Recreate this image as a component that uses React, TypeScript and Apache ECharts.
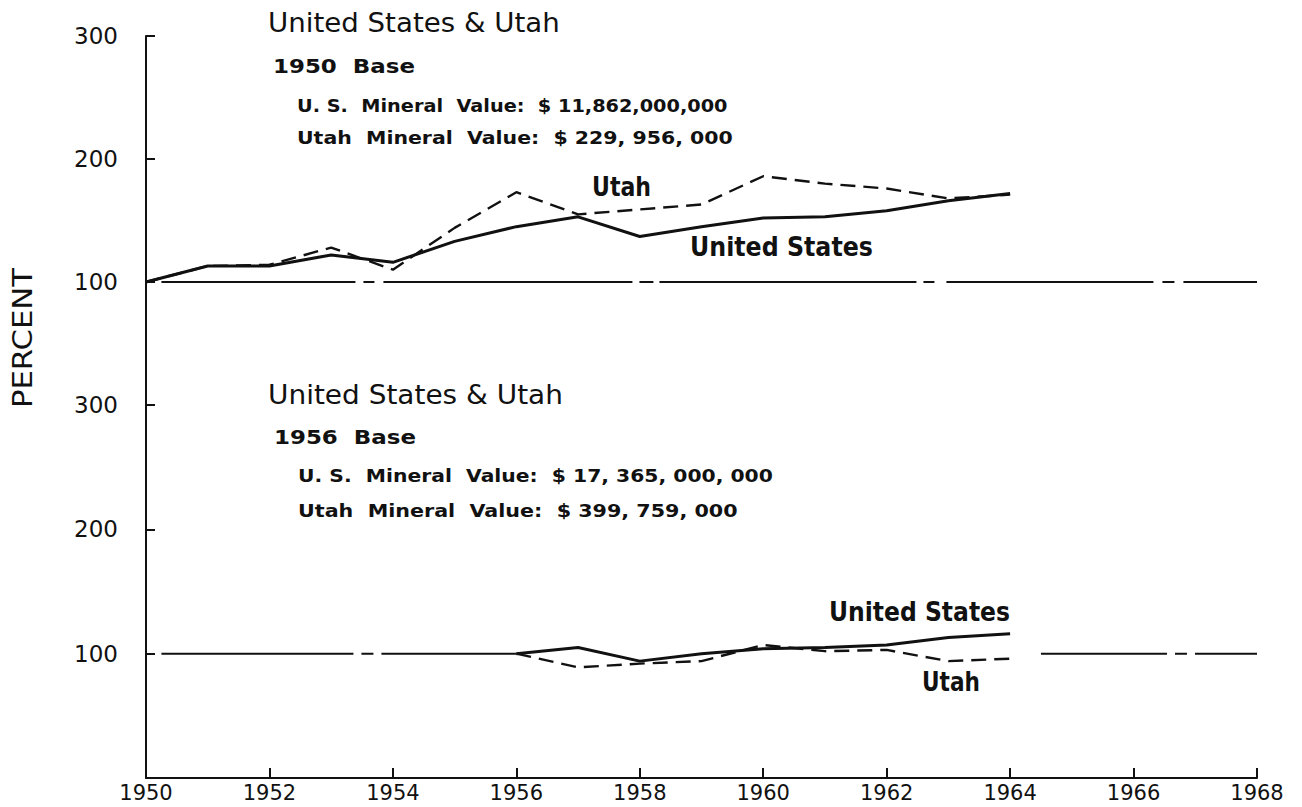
import React, { useEffect, useRef } from "react";
import * as echarts from "echarts";

// ---- data ----
const years1950Base = [1950, 1951, 1952, 1953, 1954, 1955, 1956, 1957, 1958, 1959, 1960, 1961, 1962, 1963, 1964];
const usIndex1950Base = [100, 113, 113, 122, 116, 133, 145, 153, 137, 145, 152, 153, 158, 166, 172];
const utahIndex1950Base = [100, 113, 114, 128, 110, 144, 173, 155, 159, 163, 186, 180, 176, 168, 171];

const years1956Base = [1956, 1957, 1958, 1959, 1960, 1961, 1962, 1963, 1964];
const usIndex1956Base = [100, 105, 94, 100, 104, 105, 107, 113, 116];
const utahIndex1956Base = [100, 89, 92, 94, 107, 102, 103, 94, 96];

const baseValue = 100;
const topBaselineSpan = [1950.25, 1968];
const bottomBaselineLeftSpan = [1950.25, 1956];
const bottomBaselineRightSpan = [1964.5, 1968];

const xMin = 1950;
const xMax = 1968;
const xStep = 2;
const yMin = 0;
const yMax = 300;
const yStep = 100;

const titleText = "United States & Utah";
const base1950Text = "1950  Base";
const base1956Text = "1956  Base";
const us1950Text = "U. S.  Mineral  Value:  $ 11,862,000,000";
const utah1950Text = "Utah  Mineral  Value:  $ 229, 956, 000";
const us1956Text = "U. S.  Mineral  Value:  $ 17, 365, 000, 000";
const utah1956Text = "Utah  Mineral  Value:  $ 399, 759, 000";
const usLabel = "United States";
const utahLabel = "Utah";
const yTitle = "PERCENT";

const FAMILY = '"DejaVu Sans", "Liberation Sans", Arial, sans-serif';
const INK = "#111111";

let measureCtx: CanvasRenderingContext2D | null = null;
function measure(text: string, size: number, weight: string): number {
  if (!measureCtx) measureCtx = document.createElement("canvas").getContext("2d");
  if (!measureCtx) return text.length * size * 0.6;
  measureCtx.font = `${weight} ${size}px ${FAMILY}`;
  return measureCtx.measureText(text).width;
}

type TextSpec = {
  text: string;
  x: number;
  y: number;
  width: number;
  size: number;
  weight: string;
  rotate?: boolean;
};

function fitted(spec: TextSpec) {
  const w = measure(spec.text, spec.size, spec.weight);
  const sx = spec.width / w;
  return {
    type: "text",
    x: spec.x,
    y: spec.y,
    rotation: spec.rotate ? Math.PI / 2 : 0,
    scaleX: sx,
    scaleY: 1,
    silent: true,
    style: {
      text: spec.text,
      fill: INK,
      fontSize: spec.size,
      fontFamily: FAMILY,
      fontWeight: spec.weight,
      align: spec.rotate ? "center" : "left",
      verticalAlign: "middle",
      textAlign: spec.rotate ? "center" : "left",
      textVerticalAlign: "middle",
    },
  };
}

const texts: TextSpec[] = [
  { text: titleText, x: 268, y: 23, width: 292, size: 27, weight: "normal" },
  { text: base1950Text, x: 273, y: 66, width: 142, size: 20, weight: "bold" },
  { text: us1950Text, x: 297, y: 106, width: 431, size: 18, weight: "bold" },
  { text: utah1950Text, x: 297, y: 138, width: 436, size: 18, weight: "bold" },
  { text: titleText, x: 268, y: 395, width: 295, size: 27, weight: "normal" },
  { text: base1956Text, x: 274, y: 437, width: 142, size: 20, weight: "bold" },
  { text: us1956Text, x: 298, y: 476, width: 475, size: 18, weight: "bold" },
  { text: utah1956Text, x: 298, y: 511, width: 440, size: 18, weight: "bold" },
  { text: utahLabel, x: 592, y: 187, width: 59, size: 27, weight: "bold" },
  { text: usLabel, x: 690, y: 246, width: 183, size: 27, weight: "bold" },
  { text: usLabel, x: 829, y: 612, width: 181, size: 26, weight: "bold" },
  { text: utahLabel, x: 922, y: 682, width: 58, size: 26, weight: "bold" },
  { text: yTitle, x: 23, y: 338, width: 140, size: 27, weight: "normal", rotate: true },
];

const pairs = (xs: number[], ys: number[]) => xs.map((x, i) => [x, ys[i]]);

export default function App() {
  const ref = useRef<HTMLDivElement>(null);
  useEffect(() => {
    if (!ref.current) return;
    const chart = echarts.init(ref.current, undefined, { renderer: "svg" });

    const yAxisCommon = {
      type: "value",
      min: yMin,
      max: yMax,
      interval: yStep,
      axisLine: { show: true, lineStyle: { color: INK, width: 2 } },
      axisTick: { show: true, inside: true, length: 9, lineStyle: { color: INK, width: 2 } },
      axisLabel: {
        show: true,
        margin: 28,
        fontSize: 23,
        fontFamily: FAMILY,
        color: INK,
        formatter: (v: number) => (v === 0 ? "" : String(v)),
      },
      splitLine: { show: false },
    };

    const lineSolid = { color: INK, width: 3 };
    const lineDashed = { color: INK, width: 2.4, type: [15, 8] };

    chart.setOption({
      animation: false,
      backgroundColor: "#ffffff",
      grid: [
        { left: 146, top: 36, width: 1111, height: 369, outerBoundsMode: "none" },
        { left: 146, top: 405, width: 1111, height: 373, outerBoundsMode: "none" },
      ],
      xAxis: [
        { gridIndex: 0, type: "value", min: xMin, max: xMax, interval: xStep, show: false },
        {
          gridIndex: 1,
          type: "value",
          min: xMin,
          max: xMax,
          interval: xStep,
          axisLine: { show: true, lineStyle: { color: INK, width: 2 } },
          axisTick: { show: true, inside: true, length: 10, lineStyle: { color: INK, width: 2 } },
          axisLabel: {
            margin: 4,
            fontSize: 21,
            lineHeight: 21,
            fontFamily: FAMILY,
            color: INK,
            formatter: (v: number) => String(v),
          },
          splitLine: { show: false },
        },
      ],
      yAxis: [
        { gridIndex: 0, ...yAxisCommon },
        { gridIndex: 1, ...yAxisCommon },
      ],
      series: [
        {
          type: "line",
          xAxisIndex: 0,
          yAxisIndex: 0,
          data: topBaselineSpan.map((x) => [x, baseValue]),
          symbol: "none",
          lineStyle: {
            color: INK,
            width: 2,
            type: [194, 8, 11, 9, 249, 7, 14, 6, 257, 7, 11, 12, 207, 9, 12, 9, 120],
          },
          z: 1,
        },
        {
          type: "line",
          xAxisIndex: 0,
          yAxisIndex: 0,
          data: pairs(years1950Base, utahIndex1950Base),
          symbol: "none",
          lineStyle: lineDashed,
          z: 2,
        },
        {
          type: "line",
          xAxisIndex: 0,
          yAxisIndex: 0,
          data: pairs(years1950Base, usIndex1950Base),
          symbol: "none",
          lineStyle: lineSolid,
          z: 3,
        },
        {
          type: "line",
          xAxisIndex: 1,
          yAxisIndex: 1,
          data: bottomBaselineLeftSpan.map((x) => [x, baseValue]),
          symbol: "none",
          lineStyle: { color: INK, width: 2, type: [192, 8, 12, 8, 400] },
          z: 1,
        },
        {
          type: "line",
          xAxisIndex: 1,
          yAxisIndex: 1,
          data: bottomBaselineRightSpan.map((x) => [x, baseValue]),
          symbol: "none",
          lineStyle: { color: INK, width: 2, type: [126, 8, 12, 8, 200] },
          z: 1,
        },
        {
          type: "line",
          xAxisIndex: 1,
          yAxisIndex: 1,
          data: pairs(years1956Base, utahIndex1956Base),
          symbol: "none",
          lineStyle: lineDashed,
          z: 2,
        },
        {
          type: "line",
          xAxisIndex: 1,
          yAxisIndex: 1,
          data: pairs(years1956Base, usIndex1956Base),
          symbol: "none",
          lineStyle: lineSolid,
          z: 3,
        },
      ],
      graphic: texts.map(fitted),
    });

    return () => chart.dispose();
  }, []);

  return (
    <div
      ref={ref}
      style={{ position: "fixed", left: 0, top: 0, width: 1302, height: 807, background: "#fff" }}
    />
  );
}
